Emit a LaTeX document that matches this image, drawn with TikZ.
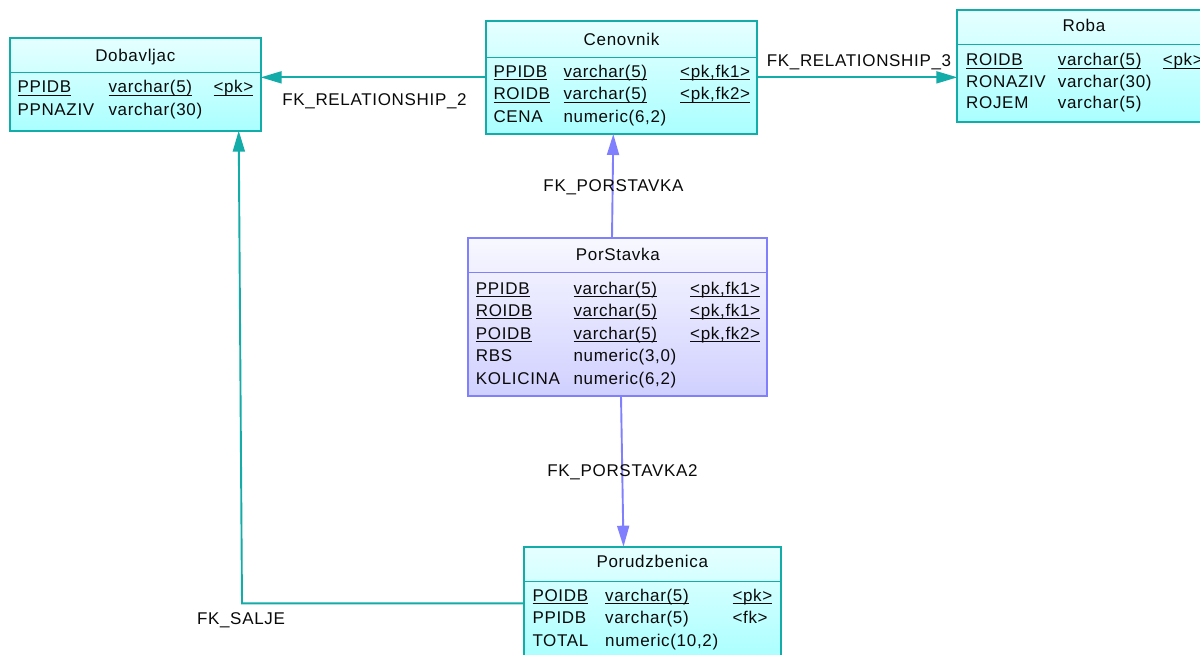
\documentclass[tikz,border=0pt]{standalone}
\usepackage{fontspec}
\setmainfont{Liberation Sans}[LetterSpace=4]
\usetikzlibrary{arrows.meta}

\definecolor{tealline}{RGB}{20,172,168}
\definecolor{tealtop}{RGB}{230,255,255}
\definecolor{tealbot}{RGB}{170,255,255}
\definecolor{blueline}{RGB}{128,128,255}
\definecolor{bluetop}{RGB}{248,248,255}
\definecolor{bluebot}{RGB}{208,208,255}
\definecolor{inkc}{RGB}{10,10,10}

% underline that sits just below the baseline
\newcommand{\ulin}[1]{\setbox0\hbox{#1}\rlap{\rule[-2.8pt]{\wd0}{1pt}}\box0}
\newcommand{\dfont}{\fontsize{17}{20}\selectfont}

\tikzset{
  tbl/.style={draw=tealline, line width=1.7pt, top color=tealtop, bottom color=tealbot,
    anchor=north west, inner sep=0pt, outer sep=0pt},
  tblb/.style={draw=blueline, line width=1.7pt, top color=bluetop, bottom color=bluebot,
    anchor=north west, inner sep=0pt, outer sep=0pt},
  sep/.style={draw=tealline, line width=1.5pt},
  sepb/.style={draw=blueline, line width=1.5pt},
  hdr/.style={anchor=base, inner sep=0pt, font=\dfont, text=inkc},
  cell/.style={anchor=base west, inner sep=0pt, font=\dfont, text=inkc},
  lbl/.style={anchor=base, inner sep=0pt, font=\dfont, text=inkc},
  fkt/.style={draw=tealline, line width=1.9pt, -{Triangle[length=21pt,width=12pt]}},
  fkb/.style={draw=blueline, line width=1.9pt, -{Triangle[length=21pt,width=12pt]}},
}

\begin{document}
\begin{tikzpicture}[x=1pt, y=-1pt]
\useasboundingbox (0,0) rectangle (1200,655);
\clip (0,0) rectangle (1200,655);
\fill[white] (0,0) rectangle (1200,655);

% ---------- Dobavljac ----------
\node[tbl, minimum width=250.7pt, minimum height=92.4pt] (dob) at (10,38.3) {};
\draw[sep] (dob.west |- 0,72.7) -- (dob.east |- 0,72.7);
\node[hdr] (dob-h) at (135.3,61.7) {Dobavljac};
\node[cell] (dob-11) at (17.3,93) {\ulin{PPIDB}};
\node[cell] (dob-12) at (108.3,93) {\ulin{varchar(5)}};
\node[cell] (dob-13) at (213.3,93) {\ulin{<pk>}};
\node[cell] (dob-21) at (17.3,115.3) {PPNAZIV};
\node[cell] (dob-22) at (108.3,115.3) {varchar(30)};

% ---------- Cenovnik ----------
\node[tbl, minimum width=271.6pt, minimum height=113.3pt] (cen) at (485.7,20.7) {};
\draw[sep] (cen.west |- 0,57.3) -- (cen.east |- 0,57.3);
\node[hdr] (cen-h) at (621.5,45.7) {Cenovnik};
\node[cell] (cen-11) at (493.3,77.3) {\ulin{PPIDB}};
\node[cell] (cen-12) at (563.3,77.3) {\ulin{varchar(5)}};
\node[cell] (cen-13) at (680,77.3) {\ulin{<pk,fk1>}};
\node[cell] (cen-21) at (493.3,100) {\ulin{ROIDB}};
\node[cell] (cen-22) at (563.3,100) {\ulin{varchar(5)}};
\node[cell] (cen-23) at (680,100) {\ulin{<pk,fk2>}};
\node[cell] (cen-31) at (493.3,122.5) {CENA};
\node[cell] (cen-32) at (563.3,122.5) {numeric(6,2)};

% ---------- Roba ----------
\node[tbl, minimum width=253.7pt, minimum height=112.6pt] (roba) at (957.3,9.7) {};
\draw[sep] (roba.west |- 0,44.3) -- (roba.east |- 0,44.3);
\node[hdr] (roba-h) at (1084,31.7) {Roba};
\node[cell] (roba-11) at (966,66) {\ulin{ROIDB}};
\node[cell] (roba-12) at (1057.7,66) {\ulin{varchar(5)}};
\node[cell] (roba-13) at (1162.7,66) {\ulin{<pk>}};
\node[cell] (roba-21) at (966,87.5) {RONAZIV};
\node[cell] (roba-22) at (1057.7,87.5) {varchar(30)};
\node[cell] (roba-31) at (966,109) {ROJEM};
\node[cell] (roba-32) at (1057.7,109) {varchar(5)};

% ---------- PorStavka ----------
\node[tblb, minimum width=299pt, minimum height=157.4pt] (ps) at (468.3,238.3) {};
\draw[sepb] (ps.west |- 0,272.7) -- (ps.east |- 0,272.7);
\node[hdr] (ps-h) at (617.8,261) {PorStavka};
\node[cell] (ps-11) at (475.7,294.3) {\ulin{PPIDB}};
\node[cell] (ps-12) at (573.3,294.3) {\ulin{varchar(5)}};
\node[cell] (ps-13) at (690,294.3) {\ulin{<pk,fk1>}};
\node[cell] (ps-21) at (475.7,316.5) {\ulin{ROIDB}};
\node[cell] (ps-22) at (573.3,316.5) {\ulin{varchar(5)}};
\node[cell] (ps-23) at (690,316.5) {\ulin{<pk,fk1>}};
\node[cell] (ps-31) at (475.7,339) {\ulin{POIDB}};
\node[cell] (ps-32) at (573.3,339) {\ulin{varchar(5)}};
\node[cell] (ps-33) at (690,339) {\ulin{<pk,fk2>}};
\node[cell] (ps-41) at (475.7,361.7) {RBS};
\node[cell] (ps-42) at (573.3,361.7) {numeric(3,0)};
\node[cell] (ps-51) at (475.7,384.5) {KOLICINA};
\node[cell] (ps-52) at (573.3,384.5) {numeric(6,2)};

% ---------- Porudzbenica ----------
\node[tbl, minimum width=256.7pt, minimum height=113.3pt] (poru) at (524,546.7) {};
\draw[sep] (poru.west |- 0,581.7) -- (poru.east |- 0,581.7);
\node[hdr] (poru-h) at (652.3,567.3) {Porudzbenica};
\node[cell] (poru-11) at (532.3,601) {\ulin{POIDB}};
\node[cell] (poru-12) at (605,601) {\ulin{varchar(5)}};
\node[cell] (poru-13) at (732.3,601) {\ulin{<pk>}};
\node[cell] (poru-21) at (532.3,623.3) {PPIDB};
\node[cell] (poru-22) at (605,623.3) {varchar(5)};
\node[cell] (poru-23) at (732.3,623.3) {<fk>};
\node[cell] (poru-31) at (532.3,646) {TOTAL};
\node[cell] (poru-32) at (605,646) {numeric(10,2)};

% ---------- references ----------
\draw[fkt] (cen.west) -- (cen.west -| dob.east);
\draw[fkt] (cen.east) -- (cen.east -| roba.west);
\draw[fkb] (ps.north -| 612,0) -- (cen.south -| 613.3,0);
\draw[fkb] (ps.south -| 621,0) -- (poru.north -| 623.5,0);
\draw[fkt] (poru.west) -- (poru.west -| 242,0) -- (dob.south -| 238.7,0);

\node[lbl] (l-rel2) at (374.5,106) {FK\_RELATIONSHIP\_2};
\node[lbl] (l-rel3) at (859,67) {FK\_RELATIONSHIP\_3};
\node[lbl] (l-ps) at (613.5,192) {FK\_PORSTAVKA};
\node[lbl] (l-ps2) at (622.5,476) {FK\_PORSTAVKA2};
\node[lbl] (l-salje) at (241,624) {FK\_SALJE};
\end{tikzpicture}
\end{document}
